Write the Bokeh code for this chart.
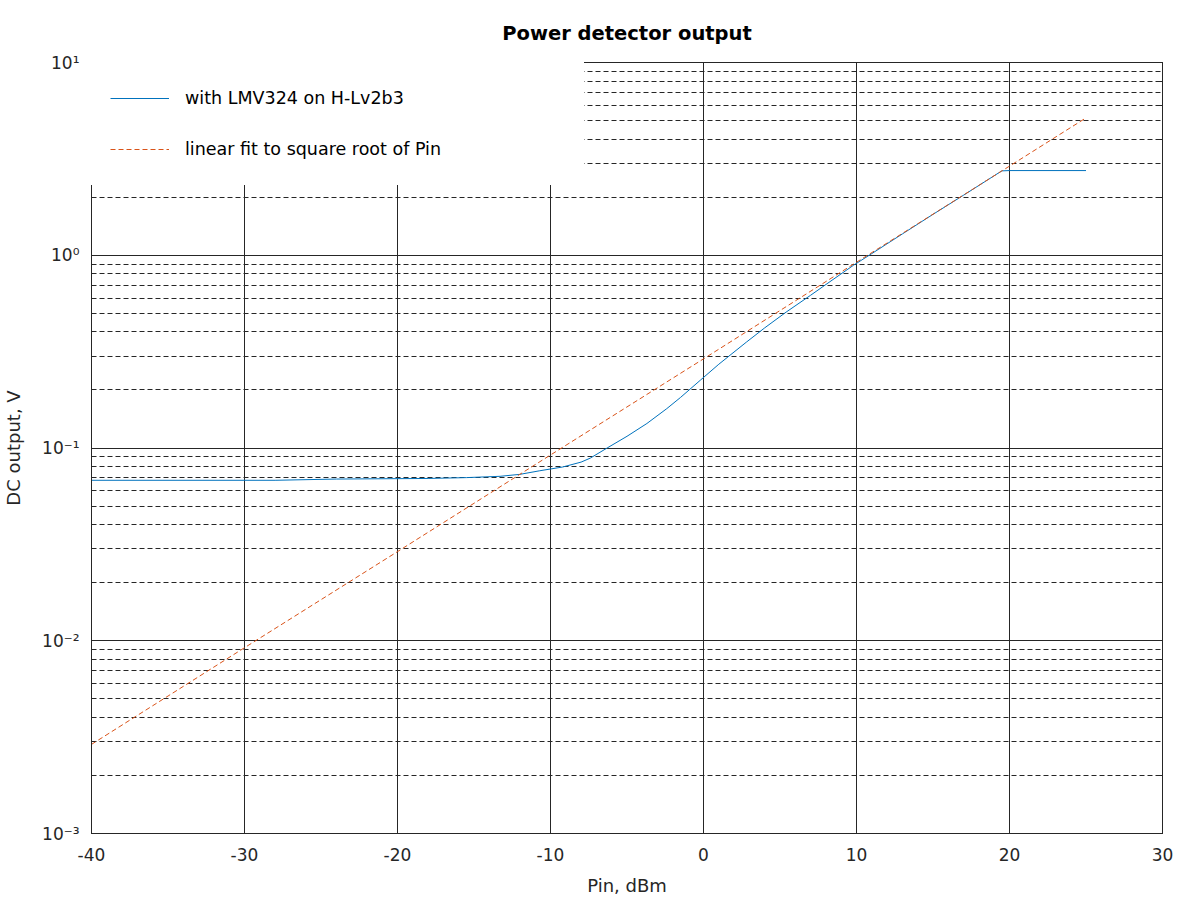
from bokeh.plotting import figure
from bokeh.models import (Range1d, LinearAxis, LogAxis, SingleIntervalTicker, LogTicker,
                          CustomJSTickFormatter, Legend, LegendItem)
from bokeh.embed import file_html
from bokeh.resources import INLINE

# measured detector output (Pin in dBm, DC output in V)
meas_pin = [-40, -28, -24, -18, -15.5, -13.3, -12, -10.7, -9.2, -8, -7.4, -6.3, -5, -3.7,
            -2.4, -1.5, -0.2, 1, 2.8, 4, 5.4, 7, 8.4, 9.8, 11, 13, 15, 17, 19.5, 20, 25]
meas_v = [0.068, 0.068, 0.069, 0.0695, 0.0702, 0.0713, 0.073, 0.0762, 0.0797, 0.0845, 0.0886,
          0.1, 0.115, 0.134, 0.16, 0.183, 0.225, 0.272, 0.354, 0.42, 0.507, 0.62, 0.742, 0.887,
          1.02, 1.29, 1.63, 2.05, 2.74, 2.75, 2.75]

# linear fit to square root of Pin
fit_pin = [-40, -30, -20, -10, 0, 10, 20, 25]
fit_v = [0.0029, 0.0092, 0.029, 0.092, 0.29, 0.92, 2.9, 5.16]

x_ticks_interval = 10
title_text = "Power detector output"
x_label = "Pin, dBm"
y_label = "DC output, V"
labels = ["with LMV324 on H-Lv2b3", "linear fit to square root of Pin"]

BLUE = "#0072BD"
ORANGE = "#D95319"
INK = "#262626"
FONT = "DejaVu Sans"

p = figure(width=1195, height=900, y_axis_type="log",
           x_range=Range1d(-40, 30), y_range=Range1d(1e-3, 10),
           output_backend="svg", toolbar_location=None, title=title_text)
p.min_border_left = 91
p.min_border_right = 33
p.min_border_top = 62
p.min_border_bottom = 67

p.title.align = "center"
p.title.text_font = FONT
p.title.text_font_size = "19.5px"
p.title.text_font_style = "bold"
p.title.text_color = "black"
p.title.standoff = 36

p.outline_line_color = INK
p.outline_line_alpha = 1

sup_js = """
const s = {'-':'\u207b','0':'\u2070','1':'\u00b9','2':'\u00b2','3':'\u00b3','4':'\u2074',
           '5':'\u2075','6':'\u2076','7':'\u2077','8':'\u2078','9':'\u2079'};
const e = Math.round(Math.log10(tick));
return '10' + String(e).split('').map(c => s[c]).join('');
"""

xt = SingleIntervalTicker(interval=x_ticks_interval, num_minor_ticks=0)
p.xaxis.ticker = xt
p.xgrid.ticker = xt
p.xaxis.formatter = CustomJSTickFormatter(code="return tick.toFixed(0);")
p.yaxis.formatter = CustomJSTickFormatter(code=sup_js)

for ax in (p.xaxis[0], p.yaxis[0]):
    ax.major_label_text_font = FONT
    ax.major_label_text_font_size = "17px"
    ax.major_label_text_color = INK
    ax.axis_label_text_font = FONT
    ax.axis_label_text_font_size = "18px"
    ax.axis_label_text_font_style = "normal"
    ax.axis_label_text_color = INK
    ax.axis_line_color = INK
    ax.major_tick_line_color = INK
    ax.minor_tick_line_color = INK
    ax.major_tick_in = 8
    ax.major_tick_out = 0
    ax.minor_tick_in = 4
    ax.minor_tick_out = 0
p.xaxis.axis_label = x_label
p.yaxis.axis_label = y_label
p.xaxis.major_label_standoff = 14
p.xaxis.axis_label_standoff = 11
p.yaxis.major_label_standoff = 12
p.yaxis.axis_label_standoff = 15

blank = CustomJSTickFormatter(code="return '';")
right_ax = LogAxis(ticker=LogTicker(), formatter=blank, axis_line_color=INK,
                   major_tick_line_color=INK, minor_tick_line_color=INK,
                   major_tick_in=8, major_tick_out=0, minor_tick_in=4, minor_tick_out=0,
                   major_label_text_font_size="1px", major_label_standoff=0)
p.add_layout(right_ax, "right")
top_ax = LinearAxis(ticker=xt, formatter=blank, axis_line_color=INK,
                    major_tick_line_color=INK, major_tick_in=8, major_tick_out=0,
                    minor_tick_line_color=None,
                    major_label_text_font_size="1px", major_label_standoff=0)
p.add_layout(top_ax, "above")

p.xgrid.grid_line_color = INK
p.xgrid.grid_line_alpha = 1
p.ygrid.grid_line_color = INK
p.ygrid.grid_line_alpha = 1
p.ygrid.minor_grid_line_color = INK
p.ygrid.minor_grid_line_alpha = 1
p.ygrid.minor_grid_line_dash = "5 3"

r1 = p.line(meas_pin, meas_v, line_color=BLUE, line_width=1)
r2 = p.line(fit_pin, fit_v, line_color=ORANGE, line_width=1, line_dash="5 3")

legend = Legend(items=[LegendItem(label=labels[0], renderers=[r1]),
                       LegendItem(label=labels[1], renderers=[r2])],
                location="top_left")
legend.margin = 0
legend.padding = 18
legend.spacing = 17
legend.glyph_width = 59
legend.glyph_height = 34
legend.label_height = 34
legend.label_width = 380
legend.label_standoff = 16
legend.border_line_color = "white"
legend.border_line_width = 1
legend.background_fill_color = "white"
legend.background_fill_alpha = 1
legend.label_text_font = FONT
legend.label_text_font_size = "17.5px"
legend.label_text_color = "black"
p.add_layout(legend)

open("out.html", "w", encoding="utf-8").write(file_html(p, INLINE))
